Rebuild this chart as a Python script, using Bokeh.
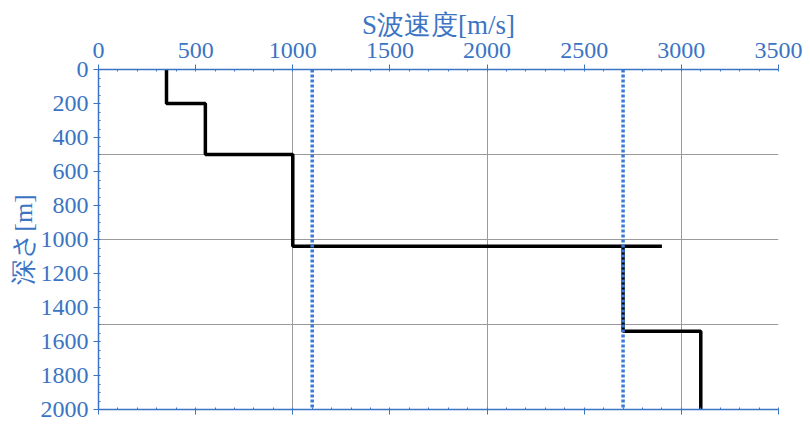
from bokeh.plotting import figure
from bokeh.models import LinearAxis, SingleIntervalTicker, Range1d, CustomJSTickFormatter
from bokeh.embed import file_html
from bokeh.resources import INLINE

# Data
velocity = [350, 350, 550, 550, 1000, 1000, 2900, 2700, 2700, 3100, 3100]
depth = [0, 200, 200, 500, 500, 1040, 1040, 1040, 1540, 1540, 2000]
ref_velocity = [1100, 2700]
depth_top = 0
depth_bottom = 2000
x_title = "S波速度[m/s]"
y_title = "深さ[m]"

BLUE = "#3b74c4"
DOT = "#3a7bd8"
SERIF = "Liberation Serif"

p = figure(width=810, height=426, output_backend="svg", toolbar_location=None,
           x_range=Range1d(0, 3500), y_range=Range1d(2000, 0),
           x_axis_location="above", min_border_left=98, min_border_right=32,
           min_border_top=69, min_border_bottom=17)
p.outline_line_color = None
p.background_fill_color = "white"
p.border_fill_color = "white"

xa = p.xaxis[0]
xa.ticker = SingleIntervalTicker(interval=500, num_minor_ticks=5)
xa.axis_label = x_title

ya = p.yaxis[0]
ya.ticker = SingleIntervalTicker(interval=200, num_minor_ticks=4)
ya.axis_label = y_title

for ax in (xa, ya):
    ax.axis_line_color = BLUE
    ax.axis_line_width = 1.5
    ax.major_tick_line_color = BLUE
    ax.minor_tick_line_color = BLUE
    ax.major_tick_out = 5
    ax.major_tick_in = 0
    ax.minor_tick_out = 0
    ax.minor_tick_in = 2
    ax.major_label_text_color = BLUE
    ax.major_label_text_font = SERIF
    ax.major_label_text_font_size = "24px"
    ax.axis_label_text_color = BLUE
    ax.axis_label_text_font = SERIF
    ax.axis_label_text_font_style = "normal"
xa.axis_label_text_font_size = "27px"
ya.axis_label_text_font_size = "26px"
ya.major_label_standoff = 5
xa.major_label_standoff = 7
xa.axis_label_standoff = 0
ya.axis_label_standoff = 0

# bottom axis line without labels
xb = LinearAxis(ticker=SingleIntervalTicker(interval=500, num_minor_ticks=5),
                formatter=CustomJSTickFormatter(code="return ''"),
                axis_line_color=BLUE, axis_line_width=1.5,
                major_tick_line_color=BLUE, minor_tick_line_color=BLUE,
                major_tick_out=5, major_tick_in=0, minor_tick_out=0, minor_tick_in=2,
                major_label_text_font_size="8px", major_label_standoff=0)
p.add_layout(xb, "below")

p.xgrid.ticker = SingleIntervalTicker(interval=1000)
p.ygrid.ticker = SingleIntervalTicker(interval=500)
p.xgrid.grid_line_color = "#9a9a9a"
p.ygrid.grid_line_color = "#9a9a9a"
p.xgrid.grid_line_width = 1
p.ygrid.grid_line_width = 1

p.line(velocity, depth, line_color="black", line_width=3.5)

p.segment(x0=ref_velocity, y0=[depth_top] * len(ref_velocity),
          x1=ref_velocity, y1=[depth_bottom] * len(ref_velocity),
          line_color=DOT, line_width=3.5, line_dash="3 2")

open("out.html", "w").write(file_html(p, INLINE))
